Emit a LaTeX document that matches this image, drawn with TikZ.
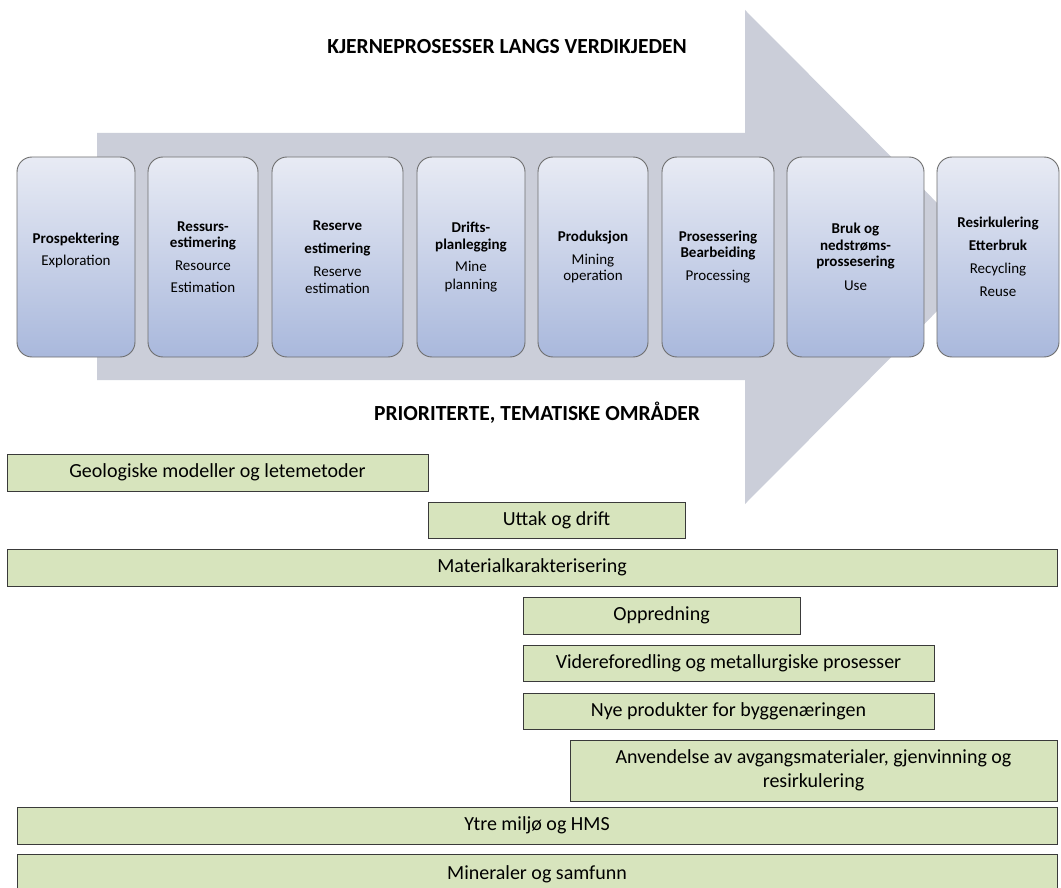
\documentclass[tikz,border=0pt]{standalone}
\usepackage{fontspec}
\setmainfont{Carlito}

\definecolor{arrowgray}{HTML}{CBCED9}
\definecolor{boxtop}{HTML}{E8EBF4}
\definecolor{boxbottom}{HTML}{A9B8DC}
\definecolor{boxline}{HTML}{6E6E6E}
\definecolor{barfill}{HTML}{D7E4BD}
\definecolor{barline}{HTML}{3A3A3A}

\tikzset{
  stage/.style={draw=boxline, line width=0.9pt, rounded corners=15pt,
    top color=boxtop, bottom color=boxbottom, minimum height=200pt,
    inner sep=2pt, align=center, font=\fontsize{15}{16.5}\selectfont},
  theme/.style={draw=barline, line width=1pt, fill=barfill, inner sep=0pt,
    align=center, font=\fontsize{20}{24}\selectfont},
  heading/.style={font=\bfseries\fontsize{21.5}{24}\selectfont}
}

\begin{document}
\begin{tikzpicture}[x=1pt, y=-1pt]
	\useasboundingbox (0,0) rectangle (1061,888);
	% big arrow behind the value chain
	\fill[arrowgray] (97,133) -- (745,133) -- (745,10) -- (991,257)
		-- (745,504) -- (745,380) -- (97,380) -- cycle;
	\node [heading] (kjerne) at (507,47) {KJERNEPROSESSER LANGS VERDIKJEDEN};
	\node [heading] (prio) at (537,413) {PRIORITERTE, TEMATISKE OMRÅDER};
	% process steps
	\node [stage, minimum width=118pt] (prosp) at (76,257)
		{\textbf{Prospektering}\\[5.5pt]Exploration\\\mbox{}};
	\node [stage, minimum width=110pt] (ressurs) at (203,257)
		{\textbf{Ressurs-}\\\textbf{estimering}\\[6.5pt]Resource\\[5.5pt]Estimation};
	\node [stage, minimum width=131pt] (reserve) at (337.5,257)
		{\textbf{Reserve}\\[6.5pt]\textbf{estimering}\\[6.5pt]Reserve\\estimation};
	\node [stage, minimum width=108pt] (drifts) at (471,257)
		{\textbf{Drifts-}\\\textbf{planlegging}\\[5.5pt]Mine\\[1.5pt]planning};
	\node [stage, minimum width=110pt] (prod) at (593,257)
		{\textbf{Produksjon}\\[6.5pt]Mining\\operation};
	\node [stage, minimum width=112pt] (prosess) at (718,257)
		{\textbf{Prosessering}\\\textbf{Bearbeiding}\\[6.5pt]Processing};
	\node [stage, minimum width=137pt] (bruk) at (855.5,257)
		{\textbf{Bruk og}\\\textbf{nedstrøms-}\\\textbf{prossesering}\\[7.5pt]Use};
	\node [stage, minimum width=122pt] (resirk) at (998,257)
		{\textbf{Resirkulering}\\[6.5pt]\textbf{Etterbruk}\\[6.5pt]Recycling\\[6.5pt]Reuse};
	% thematic areas
	\node [theme, minimum width=421pt, minimum height=37pt] (geo) at (217.5,472.5)
		{Geologiske modeller og letemetoder};
	\node [theme, minimum width=257pt, minimum height=36pt] (uttak) at (556.5,520)
		{Uttak og drift};
	\node [theme, minimum width=1050pt, minimum height=37pt] (mat) at (532,567.5)
		{Materialkarakterisering};
	\node [theme, minimum width=277pt, minimum height=37pt] (oppr) at (661.5,615.5)
		{Oppredning};
	\node [theme, minimum width=411pt, minimum height=36pt] (videre) at (728.5,663)
		{Videreforedling og metallurgiske prosesser};
	\node [theme, minimum width=411pt, minimum height=36pt] (nye) at (728.5,711)
		{Nye produkter for byggenæringen};
	\node [theme, minimum width=487pt, minimum height=61pt] (anv) at (813.5,770.5)
		{Anvendelse av avgangsmaterialer, gjenvinning og\\resirkulering};
	\node [theme, minimum width=1040pt, minimum height=37pt] (ytre) at (537,825.5)
		{Ytre miljø og HMS};
	\node [theme, minimum width=1040pt, minimum height=40pt] (miner) at (537,874)
		{Mineraler og samfunn};
\end{tikzpicture}
\end{document}
